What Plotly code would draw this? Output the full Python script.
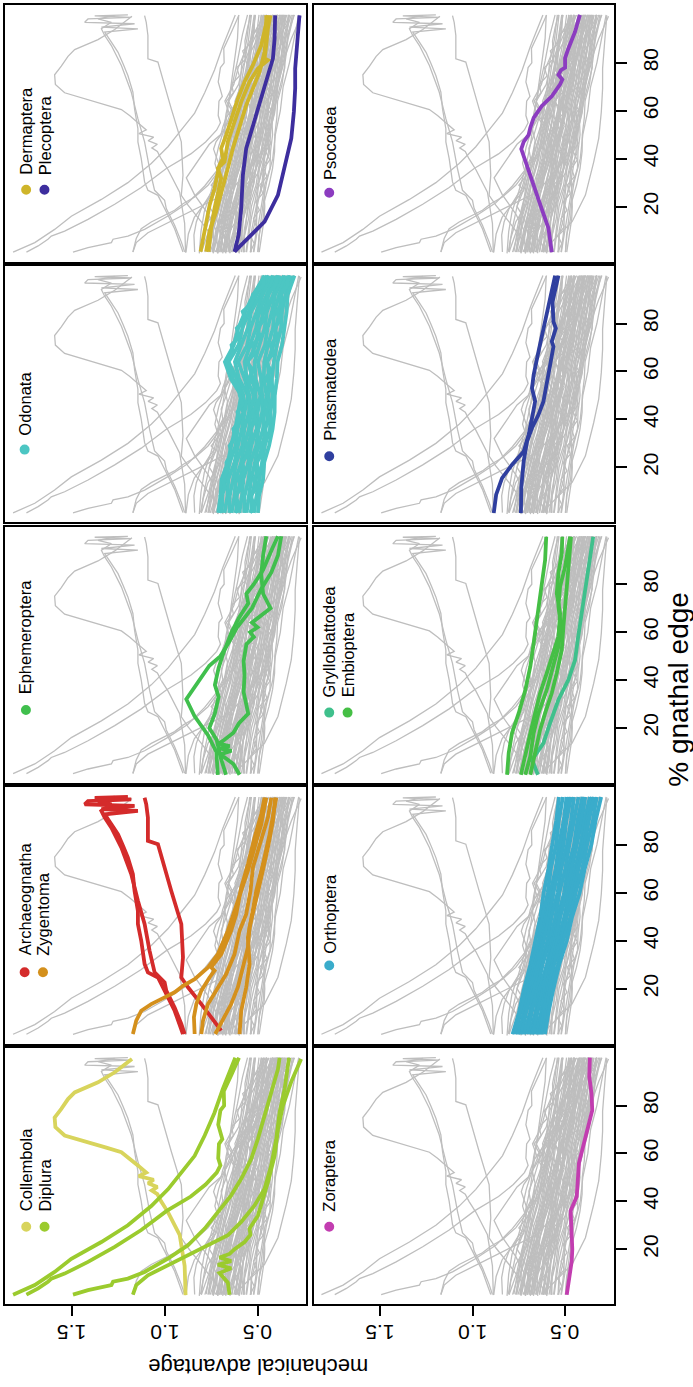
import plotly.graph_objects as go

# ---------------- data (x = % gnathal edge, y = mechanical advantage) ----------------
PCT11 = [1, 10, 20, 30, 40, 50, 60, 70, 80, 90, 100]
PCT15 = [1, 8, 15, 22, 29, 36, 43, 50, 57, 64, 71, 78, 85, 92, 100]
PCT29 = [1, 4.5, 8, 11.5, 15, 18.5, 22, 25.5, 29, 32.5, 36, 39.5, 43, 46.5, 50, 53.5, 57, 60.5, 64,
         67.5, 71, 74.5, 78, 81.5, 85, 88.5, 92, 96, 100]
MA_TICKS = [0.5, 1.0, 1.5]
MA_TICK_TEXT = ['0.5', '1.0', '1.5']
PCT_TICKS = [20, 40, 60, 80]

collembola_pct = [[0.8, 13, 26, 35.5, 40, 43, 44.5, 46, 47.5, 49, 50.5, 52, 55, 58, 60.5, 62.5,
                   64.7, 67.5, 71, 75, 78.6, 82.7, 85.5, 89.7, 93.9, 99.4]]
collembola_ma = [[0.888, 0.893, 0.920, 0.983, 1.02, 1.04, 1.07, 1.04, 1.09, 1.06, 1.14, 1.10, 1.145,
                  1.19, 1.234, 1.32, 1.414, 1.540, 1.590, 1.594, 1.558, 1.522, 1.486, 1.360, 1.270, 1.177]]

diplura_pct = [
    [1, 5, 10.5, 16, 23, 30, 38, 45, 52, 59, 67.5, 77, 87, 95, 100],
    [1, 3.6, 6.4, 7.7, 9.8, 14.7, 21, 28, 36, 42, 47, 52, 55, 58, 64, 66, 72, 78, 80, 86, 93, 100],
    [1, 2.9, 5, 6.4, 7.7, 10.5, 16.1, 21.6, 28.6, 35.5, 42.5, 49.4, 57.7, 66.1, 75.8, 85.5, 95.2, 100],
    [1, 5, 9.1, 13.3, 17.5, 21.6, 25.8, 31.4, 38.3, 45.2, 55, 66.1, 77.2, 86.9, 95.2, 100],
    [1, 6, 10, 12, 13.5, 15, 16.5, 18, 20, 23, 26, 28.6, 34, 42.5, 48, 59, 70, 80, 90, 99.4],
]
diplura_ma = [
    [1.818, 1.701, 1.594, 1.504, 1.342, 1.199, 1.073, 0.983, 0.911, 0.839, 0.785, 0.732, 0.687, 0.645, 0.620],
    [1.746, 1.683, 1.630, 1.612, 1.540, 1.414, 1.270, 1.127, 0.990, 0.860, 0.780, 0.720, 0.700, 0.712, 0.708,
     0.690, 0.712, 0.700, 0.680, 0.682, 0.640, 0.600],
    [1.495, 1.414, 1.288, 1.279, 1.199, 1.109, 0.983, 0.875, 0.785, 0.714, 0.642, 0.588, 0.534, 0.498, 0.462,
     0.426, 0.390, 0.381],
    [1.172, 1.154, 1.091, 0.983, 0.875, 0.767, 0.660, 0.588, 0.516, 0.462, 0.426, 0.399, 0.381, 0.354, 0.336, 0.330],
    [0.651, 0.660, 0.705, 0.642, 0.714, 0.642, 0.705, 0.651, 0.624, 0.570, 0.538, 0.543, 0.498, 0.462, 0.444,
     0.408, 0.390, 0.363, 0.318, 0.265],
]

archaeognatha_pct = [
    [1.1, 10.8, 19.2, 24.7, 26.8, 30.3, 40, 47, 52.5, 60.8, 67.8, 74.7, 79.6, 84.4, 88.6, 92.8, 94.2, 94.9,
     96.3, 96.9, 98.3, 99, 99.6, 100],
    [2.5, 8.1, 13.6, 20.6, 24.7, 33.1, 47, 60.8, 76.1, 80.3, 81.7, 91.4, 96.9, 99.7],
    [1.1, 5.3, 12.2, 19.2, 22.6, 26.8, 35.8, 47, 56.7, 67.8, 78.9, 87.2, 91.4, 94.2, 96.9, 98.3, 99.7],
]
archaeognatha_ma = [
    [0.902, 0.947, 1.001, 1.037, 1.091, 1.109, 1.127, 1.145, 1.145, 1.163, 1.172, 1.199, 1.225, 1.252, 1.288,
     1.324, 1.145, 1.342, 1.163, 1.432, 1.414, 1.181, 1.378, 1.199],
    [0.696, 0.749, 0.803, 0.875, 0.911, 0.902, 0.911, 0.965, 1.019, 1.037, 1.091, 1.091, 1.100, 1.109],
    [0.893, 0.911, 0.947, 0.992, 1.001, 1.055, 1.082, 1.109, 1.145, 1.181, 1.234, 1.288, 1.324, 1.342, 1.288,
     1.360, 1.270],
]

zygentoma_pct = [
    [1.1, 6.7, 10.8, 13.6, 16.4, 18.5, 21.2, 24, 28.9, 34.4, 44.2, 52.5, 60.8, 69.2, 78.9, 88.6, 99.7],
    [1.1, 8.1, 13.6, 19.2, 24.7, 27.5, 28.9, 34.4, 44.2, 51.1, 62.2, 71.9, 83.1, 92.8, 99.7],
    [1.1, 6.7, 13.6, 19.2, 26.1, 34.4, 44.2, 51.1, 60.8, 70.6, 80.3, 91.4, 99.7],
    [1.1, 6.7, 13.6, 20.6, 28.9, 37.2, 45.6, 55.3, 66.4, 78.9, 90, 99.7],
    [1.1, 10.8, 20.6, 30.3, 41.4, 49.7, 60.8, 71.9, 84.4, 99.7],
]
zygentoma_ma = [
    [1.172, 1.154, 1.127, 1.073, 1.001, 0.947, 0.902, 0.839, 0.767, 0.714, 0.660, 0.624, 0.588, 0.552, 0.516,
     0.480, 0.453],
    [0.839, 0.843, 0.830, 0.803, 0.759, 0.732, 0.750, 0.696, 0.642, 0.615, 0.588, 0.552, 0.516, 0.480, 0.462],
    [0.803, 0.794, 0.767, 0.723, 0.669, 0.624, 0.597, 0.561, 0.538, 0.525, 0.489, 0.444, 0.426],
    [0.728, 0.687, 0.642, 0.606, 0.579, 0.552, 0.543, 0.516, 0.480, 0.444, 0.417, 0.405],
    [0.597, 0.588, 0.561, 0.543, 0.552, 0.534, 0.507, 0.471, 0.435, 0.399],
]

ephemeroptera_pct = [
    [0.5, 10, 17, 25, 32, 35, 40, 46, 50, 55, 62, 70, 78, 85, 92, 100],
    [0.5, 5, 9, 10.5, 11.5, 12.5, 13.5, 15, 18, 22, 26, 30, 35, 42, 48, 55, 58, 60, 62, 64, 66, 70, 76, 84, 92, 100],
    [0.5, 8, 15, 20, 26, 33, 38, 45, 50, 56, 60, 66, 72, 76, 80, 86, 90, 95, 100],
]
ephemeroptera_ma = [
    [0.714, 0.722, 0.767, 0.840, 0.884, 0.857, 0.810, 0.760, 0.700, 0.660, 0.610, 0.530, 0.480, 0.425, 0.390, 0.372],
    [0.597, 0.630, 0.700, 0.640, 0.705, 0.650, 0.710, 0.680, 0.630, 0.600, 0.550, 0.560, 0.575, 0.570, 0.575,
     0.560, 0.520, 0.540, 0.500, 0.530, 0.495, 0.430, 0.470, 0.480, 0.470, 0.453],
    [0.670, 0.700, 0.720, 0.760, 0.730, 0.710, 0.730, 0.710, 0.690, 0.660, 0.640, 0.600, 0.550, 0.560, 0.520,
     0.470, 0.450, 0.420, 0.390],
]

odonata_ma = [  # on PCT15
    [0.712, 0.700, 0.694, 0.660, 0.642, 0.620, 0.604, 0.588, 0.644, 0.676, 0.628, 0.604, 0.566, 0.522, 0.462],
    [0.694, 0.690, 0.672, 0.650, 0.618, 0.608, 0.580, 0.576, 0.612, 0.656, 0.602, 0.582, 0.546, 0.506, 0.448],
    [0.678, 0.662, 0.658, 0.624, 0.606, 0.584, 0.570, 0.552, 0.600, 0.622, 0.588, 0.552, 0.534, 0.484, 0.438],
    [0.652, 0.650, 0.632, 0.614, 0.582, 0.571, 0.546, 0.544, 0.570, 0.604, 0.556, 0.538, 0.505, 0.473, 0.418],
    [0.640, 0.624, 0.618, 0.588, 0.572, 0.546, 0.536, 0.520, 0.558, 0.570, 0.540, 0.508, 0.492, 0.450, 0.409],
    [0.614, 0.612, 0.590, 0.578, 0.546, 0.534, 0.512, 0.510, 0.526, 0.552, 0.510, 0.492, 0.466, 0.440, 0.388],
    [0.598, 0.584, 0.576, 0.550, 0.534, 0.506, 0.499, 0.485, 0.511, 0.516, 0.490, 0.462, 0.449, 0.416, 0.378],
    [0.572, 0.570, 0.548, 0.538, 0.508, 0.495, 0.475, 0.475, 0.481, 0.498, 0.460, 0.446, 0.422, 0.405, 0.357],
    [0.559, 0.545, 0.534, 0.514, 0.497, 0.470, 0.464, 0.452, 0.466, 0.464, 0.444, 0.417, 0.409, 0.383, 0.348],
    [0.534, 0.532, 0.508, 0.502, 0.472, 0.457, 0.441, 0.441, 0.438, 0.446, 0.414, 0.401, 0.382, 0.372, 0.328],
    [0.520, 0.506, 0.493, 0.477, 0.461, 0.433, 0.430, 0.419, 0.423, 0.412, 0.396, 0.373, 0.368, 0.350, 0.318],
    [0.498, 0.492, 0.470, 0.464, 0.438, 0.419, 0.408, 0.407, 0.396, 0.392, 0.368, 0.356, 0.343, 0.338, 0.301],
]
odonata_jagged_ma = [  # on PCT29
    [0.705, 0.690, 0.700, 0.675, 0.690, 0.662, 0.668, 0.640, 0.650, 0.622, 0.630, 0.598, 0.608, 0.580, 0.596,
     0.600, 0.635, 0.642, 0.668, 0.630, 0.640, 0.598, 0.612, 0.565, 0.580, 0.530, 0.525, 0.470, 0.468],
    [0.620, 0.598, 0.622, 0.585, 0.606, 0.568, 0.586, 0.548, 0.562, 0.524, 0.545, 0.508, 0.528, 0.496, 0.522,
     0.505, 0.548, 0.522, 0.560, 0.515, 0.528, 0.485, 0.502, 0.465, 0.480, 0.440, 0.450, 0.402, 0.395],
    [0.540, 0.518, 0.540, 0.505, 0.522, 0.490, 0.510, 0.472, 0.488, 0.450, 0.466, 0.434, 0.456, 0.428, 0.452,
     0.425, 0.455, 0.428, 0.456, 0.414, 0.430, 0.392, 0.410, 0.378, 0.398, 0.364, 0.380, 0.338, 0.335],
]

dermaptera_pct = [
    [1.2, 11, 20.7, 27.6, 33.2, 37.3, 40.1, 44.3, 49.8, 56.8, 65.1, 72.1, 79, 87.3, 99.8],
    [1.2, 11, 19.3, 27.6, 31.8, 36, 38.7, 47.1, 55.4, 63.7, 72.1, 77.6, 81.1, 81.8, 87.3, 94.3, 99.8],
    [1.2, 9.6, 17.9, 27.6, 36, 44.3, 54, 62.3, 69.3, 76.2, 84.6, 92.9, 99.8],
]
dermaptera_ma = [
    [0.807, 0.785, 0.758, 0.732, 0.714, 0.705, 0.687, 0.696, 0.669, 0.642, 0.606, 0.570, 0.525, 0.480, 0.444],
    [0.764, 0.750, 0.732, 0.705, 0.696, 0.714, 0.678, 0.660, 0.624, 0.588, 0.543, 0.498, 0.444, 0.462, 0.453,
     0.444, 0.430],
    [0.777, 0.759, 0.723, 0.687, 0.660, 0.633, 0.597, 0.561, 0.525, 0.489, 0.462, 0.453, 0.453],
]

plecoptera_pct = [
    [1.2, 8.2, 19.3, 33.2, 44.3, 54, 63.7, 74.8, 81.8, 90.1, 99.8],
    [1.2, 6.8, 13.7, 24.8, 38.7, 48.5, 59.6, 69.3, 77.6, 88.7, 99.8],
]
plecoptera_ma = [
    [0.624, 0.602, 0.588, 0.579, 0.561, 0.525, 0.489, 0.444, 0.417, 0.408, 0.405],
    [0.624, 0.552, 0.462, 0.390, 0.345, 0.318, 0.304, 0.297, 0.297, 0.286, 0.274],
]

zoraptera_pct = [[1, 8, 15, 20, 28, 36, 42, 50, 56, 63, 70, 78, 85, 92, 100]]
zoraptera_ma = [[0.491, 0.479, 0.464, 0.461, 0.464, 0.470, 0.437, 0.429, 0.425, 0.402, 0.378, 0.353, 0.357,
                 0.369, 0.366]]

orthoptera_ma = [  # on PCT11
    [0.784, 0.750, 0.722, 0.688, 0.661, 0.634, 0.616, 0.590, 0.570, 0.548, 0.533],
    [0.768, 0.742, 0.706, 0.679, 0.642, 0.622, 0.594, 0.577, 0.549, 0.534, 0.512],
    [0.755, 0.718, 0.694, 0.668, 0.625, 0.606, 0.580, 0.551, 0.533, 0.508, 0.492],
    [0.745, 0.725, 0.690, 0.655, 0.620, 0.598, 0.570, 0.545, 0.520, 0.500, 0.480],
    [0.736, 0.711, 0.677, 0.645, 0.617, 0.585, 0.563, 0.534, 0.509, 0.493, 0.468],
    [0.722, 0.690, 0.667, 0.629, 0.596, 0.573, 0.541, 0.521, 0.490, 0.468, 0.452],
    [0.704, 0.681, 0.650, 0.622, 0.583, 0.552, 0.531, 0.499, 0.477, 0.451, 0.428],
    [0.692, 0.660, 0.638, 0.599, 0.571, 0.536, 0.506, 0.485, 0.452, 0.433, 0.406],
    [0.680, 0.655, 0.628, 0.583, 0.562, 0.530, 0.497, 0.474, 0.446, 0.421, 0.398],
    [0.672, 0.650, 0.619, 0.592, 0.552, 0.526, 0.491, 0.463, 0.440, 0.410, 0.391],
    [0.660, 0.630, 0.610, 0.571, 0.541, 0.504, 0.478, 0.445, 0.416, 0.396, 0.366],
    [0.650, 0.622, 0.598, 0.566, 0.528, 0.498, 0.465, 0.436, 0.405, 0.383, 0.355],
    [0.638, 0.617, 0.589, 0.560, 0.519, 0.492, 0.452, 0.428, 0.394, 0.372, 0.343],
    [0.628, 0.600, 0.581, 0.540, 0.511, 0.471, 0.443, 0.407, 0.381, 0.350, 0.329],
    [0.609, 0.590, 0.563, 0.532, 0.491, 0.462, 0.421, 0.394, 0.358, 0.335, 0.305],
]

grylloblattodea_pct = [[0.5, 6.8, 9.6, 13.7, 22.1, 31.8, 40.1, 48.4, 58.2, 69.3, 83.2, 99.8]]
grylloblattodea_ma = [[0.647, 0.679, 0.653, 0.617, 0.581, 0.536, 0.482, 0.446, 0.429, 0.407, 0.384, 0.348]]

embioptera_pct = [
    [0.5, 9.6, 17.9, 26.2, 35.9, 45.7, 55.4, 65.1, 76.2, 84.6, 90.1, 99.8],
    [0.5, 9.6, 17.9, 26.2, 34.6, 42.9, 51.2, 58.2, 67.9, 76.2, 84.6, 92.9, 99.8],
    [0.5, 8.2, 17.9, 26.2, 35.9, 45.7, 54, 62.3, 70.7, 79, 87.3, 99.8],
    [0.5, 9.6, 19.3, 26.2, 34.6, 42.9, 52.6, 62.3, 72.1, 83.2, 99.8],
]
embioptera_ma = [
    [0.814, 0.805, 0.787, 0.751, 0.715, 0.688, 0.670, 0.653, 0.635, 0.617, 0.608, 0.602],
    [0.739, 0.715, 0.688, 0.662, 0.635, 0.599, 0.563, 0.536, 0.527, 0.545, 0.536, 0.518, 0.515],
    [0.715, 0.688, 0.670, 0.644, 0.599, 0.563, 0.536, 0.522, 0.536, 0.527, 0.500, 0.473],
    [0.688, 0.662, 0.635, 0.608, 0.572, 0.545, 0.518, 0.509, 0.500, 0.486, 0.468],
]

phasmatodea_pct = [
    [0.9, 8.6, 15.5, 21.1, 26.6, 33.6, 40.5, 47.5, 53, 58.6, 68.3, 80.8, 91.9, 100],
    [0.9, 11.4, 22.5, 30.8, 36.4, 41.9, 47.5, 54.4, 62.7, 70.4, 72.5, 78, 80.8, 89.1, 94.7, 100],
]
phasmatodea_ma = [
    [0.886, 0.873, 0.841, 0.787, 0.724, 0.697, 0.679, 0.662, 0.679, 0.670, 0.644, 0.608, 0.581, 0.554],
    [0.739, 0.737, 0.724, 0.706, 0.679, 0.644, 0.617, 0.599, 0.581, 0.563, 0.572, 0.550, 0.563, 0.568, 0.554, 0.536],
]

psocodea_pct = [[1, 11, 19, 29, 37, 43, 44, 47, 50, 53, 57, 62, 66, 71, 73, 75, 77, 78, 82, 86, 93, 100]]
psocodea_ma = [[0.572, 0.590, 0.626, 0.670, 0.706, 0.733, 0.737, 0.724, 0.697, 0.688, 0.670, 0.626, 0.572,
                0.527, 0.515, 0.536, 0.522, 0.500, 0.500, 0.482, 0.446, 0.420]]

other_ma = [  # remaining taxa, grey only, on PCT11
    [0.742, 0.716, 0.693, 0.658, 0.634, 0.607, 0.592, 0.566, 0.553, 0.527, 0.512],
    [0.703, 0.684, 0.657, 0.634, 0.598, 0.584, 0.556, 0.542, 0.517, 0.503, 0.478],
    [0.668, 0.653, 0.618, 0.604, 0.572, 0.546, 0.534, 0.507, 0.492, 0.466, 0.452],
    [0.651, 0.626, 0.612, 0.577, 0.553, 0.524, 0.497, 0.483, 0.457, 0.443, 0.418],
    [0.618, 0.603, 0.578, 0.562, 0.527, 0.503, 0.484, 0.456, 0.442, 0.416, 0.402],
    [0.603, 0.586, 0.572, 0.537, 0.514, 0.486, 0.472, 0.447, 0.428, 0.412, 0.378],
    [0.577, 0.572, 0.548, 0.524, 0.497, 0.482, 0.447, 0.432, 0.413, 0.386, 0.362],
    [0.562, 0.547, 0.533, 0.498, 0.484, 0.457, 0.443, 0.416, 0.402, 0.368, 0.352],
    [0.538, 0.532, 0.507, 0.493, 0.466, 0.452, 0.426, 0.404, 0.377, 0.362, 0.328],
    [0.522, 0.507, 0.502, 0.476, 0.462, 0.436, 0.408, 0.392, 0.368, 0.338, 0.312],
    [0.684, 0.672, 0.646, 0.622, 0.578, 0.553, 0.522, 0.494, 0.457, 0.434, 0.398],
    [0.722, 0.697, 0.674, 0.627, 0.593, 0.562, 0.528, 0.503, 0.466, 0.442, 0.412],
    [0.498, 0.488, 0.472, 0.452, 0.418, 0.404, 0.377, 0.362, 0.328, 0.302, 0.278],
    [0.803, 0.762, 0.733, 0.698, 0.672, 0.638, 0.622, 0.597, 0.584, 0.557, 0.542],
    [0.762, 0.738, 0.702, 0.683, 0.648, 0.627, 0.598, 0.582, 0.556, 0.537, 0.518],
    [0.587, 0.566, 0.553, 0.518, 0.506, 0.474, 0.458, 0.428, 0.421, 0.392, 0.372],
]

colors = {
    'Collembola': '#D8D45C', 'Diplura': '#9BCB2E', 'Archaeognatha': '#D42B2B', 'Zygentoma': '#D4901C',
    'Ephemeroptera': '#40BF4D', 'Odonata': '#4CC6C3', 'Dermaptera': '#CFB52A', 'Plecoptera': '#3D2E9E',
    'Zoraptera': '#C23DB0', 'Orthoptera': '#3AACCB', 'Grylloblattodea': '#3FC08C', 'Embioptera': '#45BF45',
    'Phasmatodea': '#2F3F9F', 'Psocodea': '#8C3CC0',
}

groups = {
    'Collembola': (collembola_pct, collembola_ma),
    'Diplura': (diplura_pct, diplura_ma),
    'Archaeognatha': (archaeognatha_pct, archaeognatha_ma),
    'Zygentoma': (zygentoma_pct, zygentoma_ma),
    'Ephemeroptera': (ephemeroptera_pct, ephemeroptera_ma),
    'Odonata': ([PCT15] * len(odonata_ma) + [PCT29] * len(odonata_jagged_ma), odonata_ma + odonata_jagged_ma),
    'Dermaptera': (dermaptera_pct, dermaptera_ma),
    'Plecoptera': (plecoptera_pct, plecoptera_ma),
    'Zoraptera': (zoraptera_pct, zoraptera_ma),
    'Orthoptera': ([PCT11] * len(orthoptera_ma), orthoptera_ma),
    'Grylloblattodea': (grylloblattodea_pct, grylloblattodea_ma),
    'Embioptera': (embioptera_pct, embioptera_ma),
    'Phasmatodea': (phasmatodea_pct, phasmatodea_ma),
    'Psocodea': (psocodea_pct, psocodea_ma),
}
other = ([PCT11] * len(other_ma), other_ma)

# panel layout of the (rotated) figure: (row, col, highlighted taxa)
panels = [
    (1, 1, ['Dermaptera', 'Plecoptera']),
    (1, 2, ['Psocodea']),
    (2, 1, ['Odonata']),
    (2, 2, ['Phasmatodea']),
    (3, 1, ['Ephemeroptera']),
    (3, 2, ['Grylloblattodea', 'Embioptera']),
    (4, 1, ['Archaeognatha', 'Zygentoma']),
    (4, 2, ['Orthoptera']),
    (5, 1, ['Collembola', 'Diplura']),
    (5, 2, ['Zoraptera']),
]

# ---------------- geometry ----------------
W, H = 693, 1387
ML, MR, MT, MB = 3, 79, 3, 83
PW, PH = W - ML - MR, H - MT - MB
COLS_PX = [(3.3, 305.3), (312.7, 613.7)]
ROW_TOP0, ROW_PITCH, ROW_H = 3.3, 261.1, 256.6
FONT = 'Liberation Sans, Arial, Helvetica, sans-serif'


def pxx(x):
    return (x - ML) / PW


def pxy(y):
    return (H - MB - y) / PH


# legend anchor per panel: (first dot x, dot y, text start y) in pixels
legend_px = {
    (1, 1): (24.2, 188, 175), (1, 2): (328.3, 191, 180),
    (2, 1): (22.7, 448.3, 436.7), (2, 2): (328.3, 455, 441.7),
    (3, 1): (24.0, 709, 695), (3, 2): (328.3, 711.7, 698.3),
    (4, 1): (22.7, 971.7, 956.7), (4, 2): (328.3, 965, 955),
    (5, 1): (24.3, 1226.7, 1213.3), (5, 2): (328.3, 1226.7, 1213.3),
}
LEG_STEP = 18.4


def joined(pcts, mas):
    xs, ys = [], []
    for p, m in zip(pcts, mas):
        xs += list(m) + [None]
        ys += list(p) + [None]
    return xs, ys


all_pcts, all_mas = list(other[0]), list(other[1])
for name, (p, m) in groups.items():
    all_pcts += p
    all_mas += m
grey_x, grey_y = joined(all_pcts, all_mas)

fig = go.Figure()
layout = {}
annotations = []
shapes = []

for k, (r, c, taxa) in enumerate(panels, start=1):
    xa = 'x' if k == 1 else f'x{k}'
    ya = 'y' if k == 1 else f'y{k}'
    fig.add_trace(go.Scatter(x=grey_x, y=grey_y, mode='lines', xaxis=xa, yaxis=ya,
                             line=dict(color='#BEBEBE', width=1.3), hoverinfo='skip', showlegend=False))
    for t in taxa:
        gx, gy = joined(*groups[t])
        fig.add_trace(go.Scatter(x=gx, y=gy, mode='lines', xaxis=xa, yaxis=ya,
                                 line=dict(color=colors[t], width=3.8), name=t, showlegend=False))
    top = ROW_TOP0 + (r - 1) * ROW_PITCH
    bot = top + ROW_H
    x0, x1 = COLS_PX[c - 1]
    bottom_row = (r == 5)
    right_col = (c == 2)
    layout['xaxis' if k == 1 else f'xaxis{k}'] = dict(
        domain=[max(0, pxx(x0)), min(1, pxx(x1))], anchor=ya, range=[1.86, 0.237],
        showline=True, mirror=True, linecolor='black', linewidth=2, showgrid=False, zeroline=False,
        tickvals=MA_TICKS, ticks='outside' if bottom_row else '', ticklen=10, tickwidth=2,
        tickcolor='black', showticklabels=False)
    layout['yaxis' if k == 1 else f'yaxis{k}'] = dict(
        domain=[max(0, pxy(bot)), min(1, pxy(top))], anchor=xa, range=[-2.9, 104.0], side='right',
        showline=True, mirror=True, linecolor='black', linewidth=2, showgrid=False, zeroline=False,
        tickvals=PCT_TICKS, ticks='outside' if right_col else '', ticklen=11, tickwidth=2,
        tickcolor='black', showticklabels=right_col, tickangle=-90, ticklabelstandoff=6,
        tickfont=dict(size=21, family=FONT, color='black'))
    # upside-down tick labels of the mechanical advantage axis (bottom row only)
    if bottom_row:
        for v, txt in zip(MA_TICKS, MA_TICK_TEXT):
            annotations.append(dict(text=txt, xref=xa, yref='paper', x=v, y=pxy(1332),
                                    xanchor='center', yanchor='middle', textangle=180, showarrow=False,
                                    font=dict(size=21, family=FONT, color='black')))
    # legend
    dx, dy, ty = legend_px[(r, c)]
    for i, t in enumerate(taxa):
        cx = dx + i * LEG_STEP
        shapes.append(dict(type='circle', xref='paper', yref='paper',
                           x0=pxx(cx - 5), x1=pxx(cx + 5), y0=pxy(dy + 5), y1=pxy(dy - 5),
                           fillcolor=colors[t], line=dict(width=0)))
        annotations.append(dict(text=t, xref='paper', yref='paper', x=pxx(cx), y=pxy(ty),
                                xanchor='center', yanchor='bottom', textangle=-90, showarrow=False,
                                font=dict(size=16.5, family=FONT, color='black')))

annotations.append(dict(text='mechanical advantage', xref='paper', yref='paper', x=pxx(257.5), y=pxy(1366),
                        xanchor='center', yanchor='middle', textangle=180, showarrow=False,
                        font=dict(size=22, family=FONT, color='black')))
annotations.append(dict(text='% gnathal edge', xref='paper', yref='paper', x=pxx(679), y=pxy(688),
                        xanchor='center', yanchor='middle', textangle=-90, showarrow=False,
                        font=dict(size=28, family=FONT, color='black')))

fig.update_layout(width=W, height=H, margin=dict(l=ML, r=MR, t=MT, b=MB, pad=0),
                  paper_bgcolor='white', plot_bgcolor='white', showlegend=False,
                  annotations=annotations, shapes=shapes, **layout)

fig.write_html('out.html', config={'displayModeBar': False},
               post_script="document.body.style.margin='0px';")
